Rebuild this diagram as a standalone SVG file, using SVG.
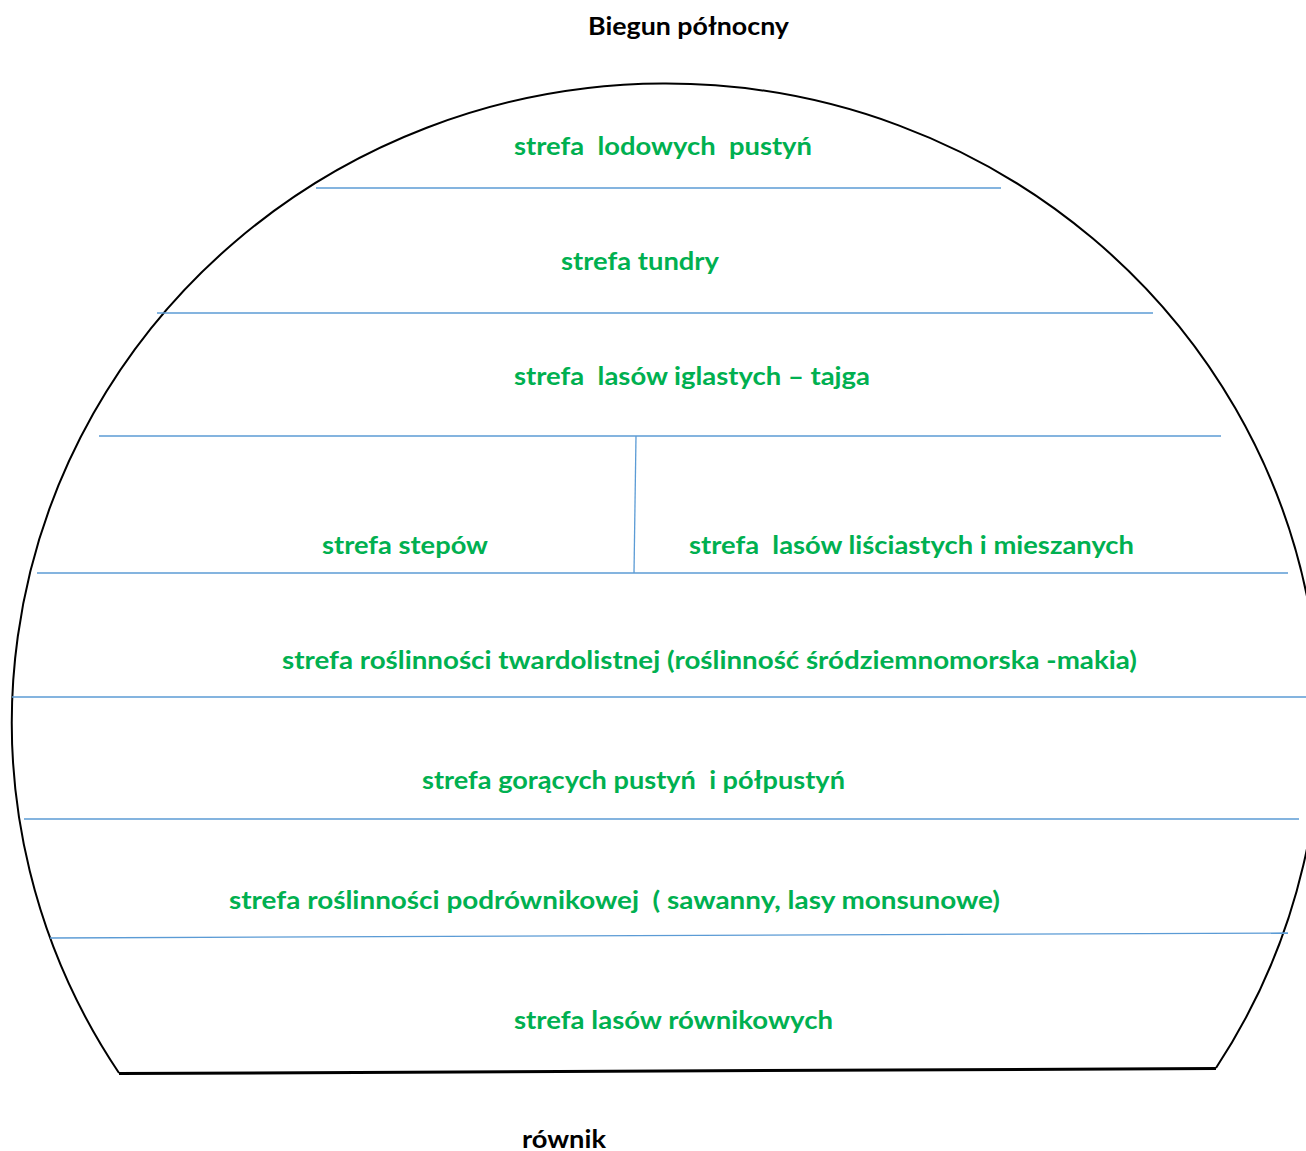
<svg xmlns="http://www.w3.org/2000/svg" width="1306" height="1151" viewBox="0 0 1306 1151">
<style>
text{font-family:Lato,"Open Sans","Liberation Sans",sans-serif;font-weight:bold;font-size:24px;white-space:pre}
.z{fill:#00B050}
.k{fill:#000}
.b{stroke:#5B9BD5;stroke-width:1.3;fill:none}
</style>
<rect width="1306" height="1151" fill="#fff"/>
<g id="outline">
<path d="M119,1073 A654,639 0 1 1 1216,1068" fill="none" stroke="#000" stroke-width="2"/>
<line x1="119" y1="1073.5" x2="1216" y2="1068.5" stroke="#000" stroke-width="3"/>
</g>
<g id="connectors">
<line class="b" x1="316" y1="188" x2="1001" y2="188"/>
<line class="b" x1="157" y1="313" x2="1153" y2="313"/>
<line class="b" x1="99" y1="436" x2="1221" y2="436"/>
<line class="b" x1="636" y1="436" x2="634" y2="573"/>
<line class="b" x1="37" y1="573" x2="1288" y2="573"/>
<line class="b" x1="12" y1="697" x2="1306" y2="697"/>
<line class="b" x1="24" y1="819" x2="1299" y2="819"/>
<line class="b" x1="50" y1="938" x2="1288" y2="933"/>
</g>
<g id="labels">
<text class="k" x="588" y="35" textLength="201" lengthAdjust="spacingAndGlyphs">Biegun północny</text>
<text class="k" x="522" y="1148" textLength="84" lengthAdjust="spacingAndGlyphs">równik</text>
</g>
<g id="zone1"><text class="z" x="514" y="155" textLength="298" lengthAdjust="spacingAndGlyphs">strefa  lodowych  pustyń</text></g>
<g id="zone2"><text class="z" x="561" y="270" textLength="158" lengthAdjust="spacingAndGlyphs">strefa tundry</text></g>
<g id="zone3"><text class="z" x="514" y="385" textLength="356" lengthAdjust="spacingAndGlyphs">strefa  lasów iglastych – tajga</text></g>
<g id="zone4a"><text class="z" x="322" y="554" textLength="166" lengthAdjust="spacingAndGlyphs">strefa stepów</text></g>
<g id="zone4b"><text class="z" x="689" y="554" textLength="445" lengthAdjust="spacingAndGlyphs">strefa  lasów liściastych i mieszanych</text></g>
<g id="zone5"><text class="z" x="282" y="669" textLength="855" lengthAdjust="spacingAndGlyphs">strefa roślinności twardolistnej (roślinność śródziemnomorska -makia)</text></g>
<g id="zone6"><text class="z" x="422" y="789" textLength="423" lengthAdjust="spacingAndGlyphs">strefa gorących pustyń  i półpustyń</text></g>
<g id="zone7"><text class="z" x="229" y="909" textLength="771" lengthAdjust="spacingAndGlyphs">strefa roślinności podrównikowej  ( sawanny, lasy monsunowe)</text></g>
<g id="zone8"><text class="z" x="514" y="1029" textLength="319" lengthAdjust="spacingAndGlyphs">strefa lasów równikowych</text></g>
</svg>
